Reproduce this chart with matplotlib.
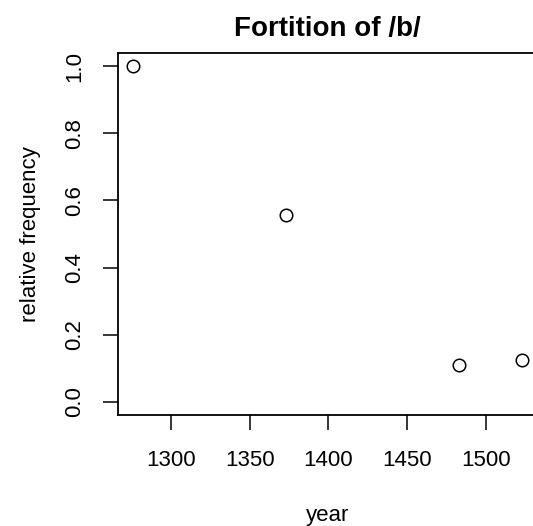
import matplotlib
matplotlib.use('Agg')
import matplotlib.pyplot as plt

# Relative frequency of fortition of /b/ by year
years = [1276, 1373, 1483, 1523]
rel_freq = [1.0, 0.556, 0.11, 0.125]
x_ticks = [1300, 1350, 1400, 1450, 1500]
y_ticks = [0.0, 0.2, 0.4, 0.6, 0.8, 1.0]

plt.rcParams['font.family'] = ['Liberation Sans', 'DejaVu Sans']

fig = plt.figure(figsize=(5.33, 5.26), dpi=100)
# plot region runs slightly past the right edge of the figure
ax = fig.add_axes([0.2205, 0.2103, 0.788, 0.6897])

ax.plot(years, rel_freq, linestyle='none', marker='o', markersize=9,
        markerfacecolor='none', markeredgecolor='black', markeredgewidth=1.1)

# R-style 4% padding around the data range
xr = max(years) - min(years)
ax.set_xlim(min(years) - 0.04 * xr, max(years) + 0.04 * xr)
ax.set_ylim(-0.04, 1.04)

ax.set_xticks(x_ticks)
ax.set_xticklabels([str(t) for t in x_ticks])
ax.set_yticks(y_ticks)
ax.set_yticklabels([f'{t:.1f}' for t in y_ticks], rotation=90, va='center')

ax.tick_params(axis='both', direction='out', length=11, width=1.1,
               labelsize=16, pad=14)
ax.tick_params(axis='y', pad=12)
for side in ax.spines.values():
    side.set_linewidth(1.3)

ax.set_title('Fortition of /b/', fontsize=20, fontweight='bold', pad=12)
ax.set_xlabel('year', fontsize=16, va='baseline')
ax.xaxis.set_label_coords(0.5, -0.291)
ax.set_ylabel('relative frequency', fontsize=16, labelpad=17)

fig.savefig('out.png', dpi=100)
